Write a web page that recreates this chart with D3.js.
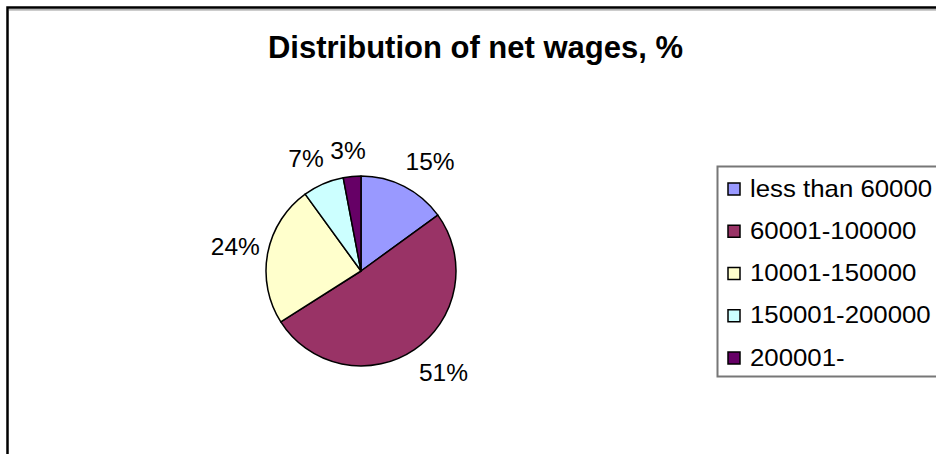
<!DOCTYPE html>
<html>
<head>
<meta charset="utf-8">
<script src="https://cdn.jsdelivr.net/npm/d3@7/dist/d3.min.js"></script>
<style>
  html, body { margin: 0; padding: 0; background: #fff; }
  svg { display: block; font-family: "Liberation Sans", Arial, sans-serif; }
</style>
</head>
<body>
<svg id="chart" width="936" height="454"></svg>
<script>
// Wage brackets and their share of employees, %
const categories = ["less than 60000", "60001-100000", "10001-150000", "150001-200000", "200001-"];
const shares = [15, 51, 24, 7, 3];
const colors = ["#9999FF", "#993366", "#FFFFCC", "#CCFFFF", "#660066"];
const title = "Distribution of net wages, %";

const svg = d3.select("#chart");
const W = 936, H = 454;

// chart area frame (open to the right and bottom)
svg.append("rect").attr("x", 7.5).attr("y", 7.5).attr("width", 1200).attr("height", 800)
  .attr("fill", "#fff").attr("stroke", "#000").attr("stroke-width", 2.5);
svg.append("line").attr("x1", 9).attr("x2", W).attr("y1", 9.9).attr("y2", 9.9)
  .attr("stroke", "#9a9a9a").attr("stroke-width", 1.2);

// title
svg.append("text").attr("x", 475.5).attr("y", 58).attr("text-anchor", "middle")
  .attr("font-size", 31).attr("font-weight", "bold").attr("fill", "#000").text(title);

// pie
const cx = 361, cy = 271, r = 95;
const pie = d3.pie().sort(null).value(d => d)(shares);
const arc = d3.arc().innerRadius(0).outerRadius(r);
const g = svg.append("g").attr("transform", `translate(${cx},${cy})`);
g.selectAll("path").data(pie).join("path")
  .attr("d", arc)
  .attr("fill", (d, i) => colors[i])
  .attr("stroke", "#000").attr("stroke-width", 1.5).attr("stroke-linejoin", "round");

// percentage labels, boxed just outside each slice
const labelSize = 24.5, capH = 17;
const clamp = v => Math.max(-1, Math.min(1, v));
const labels = g.selectAll("text.pct").data(pie).join("text")
  .attr("class", "pct")
  .attr("font-size", labelSize).attr("fill", "#000").attr("text-anchor", "middle")
  .text(d => d.data + "%");
labels.each(function(d) {
  const a = (d.startAngle + d.endAngle) / 2;
  const s = Math.sin(a), c = Math.cos(a);
  const w = this.getComputedTextLength();
  const px = (r + 8) * s, py = -(r + 18) * c;
  const mx = px + (w / 2) * clamp(2 * s);
  const my = py - (capH / 2) * clamp(2 * c);
  d3.select(this).attr("x", mx).attr("y", my + capH / 2);
});

// legend
const lg = svg.append("g");
lg.append("rect").attr("x", 717.5).attr("y", 166.5).attr("width", 260).attr("height", 210)
  .attr("fill", "#fff").attr("stroke", "#777").attr("stroke-width", 2);
const rowY = d3.scalePoint().domain(categories).range([189, 358]);
const items = lg.selectAll("g.item").data(categories).join("g").attr("class", "item")
  .attr("transform", d => `translate(0,${rowY(d)})`);
items.append("rect").attr("x", 728).attr("y", -6).attr("width", 12).attr("height", 12)
  .attr("fill", (d, i) => colors[i]).attr("stroke", "#000").attr("stroke-width", 1.5);
items.append("text").attr("transform", "translate(750,7.5) scale(1.075,1)")
  .attr("font-size", 24).attr("fill", "#000")
  .text(d => d);
</script>
</body>
</html>
